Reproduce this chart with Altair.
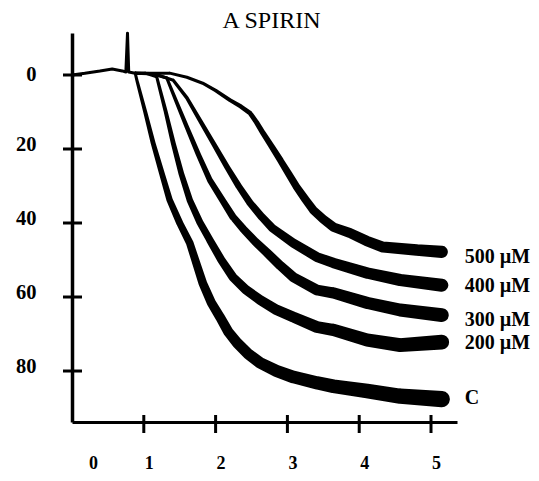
import altair as alt
import pandas as pd

title_text = "A SPIRIN"

# shared pre-addition baseline (incl. the addition artefact spike)
base_t = [0.00, 0.18, 0.39, 0.56, 0.70, 0.75, 0.773, 0.79, 0.88]
base_v = [0.0, -0.5, -1.1, -1.6, -1.1, -0.8, -11.3, -0.8, -0.5]

c_t = [0.88, 0.91, 1.02, 1.13, 1.25, 1.36, 1.50, 1.64, 1.82, 1.94, 2.06, 2.18, 2.30, 2.46, 2.62, 2.85, 3.08, 3.41, 3.64, 4.11, 4.57, 5.15]
c_v = [-0.5, 1.9, 10.0, 18.4, 26.5, 33.8, 40.0, 45.4, 56.2, 61.5, 65.4, 69.5, 72.4, 75.5, 77.8, 80.0, 81.6, 83.2, 84.1, 85.4, 86.8, 87.6]

a200_t = [0.88, 1.02, 1.18, 1.30, 1.41, 1.52, 1.64, 1.78, 1.92, 2.08, 2.24, 2.42, 2.62, 2.85, 3.08, 3.41, 3.64, 4.11, 4.57, 5.15]
a200_v = [-0.5, -0.5, 0.5, 9.5, 18.4, 26.5, 33.8, 39.8, 44.6, 50.0, 54.6, 58.0, 60.8, 63.5, 65.4, 68.1, 68.9, 71.6, 73.0, 72.2]

a300_t = [0.88, 1.10, 1.32, 1.46, 1.60, 1.76, 1.92, 2.10, 2.24, 2.38, 2.55, 2.72, 2.90, 3.08, 3.41, 3.64, 4.11, 4.57, 5.15]
a300_v = [-0.5, -0.4, 0.8, 7.5, 14.1, 21.5, 28.4, 34.0, 38.3, 41.5, 45.0, 48.1, 51.5, 54.6, 58.1, 58.9, 61.6, 63.5, 64.9]

a400_t = [0.88, 1.15, 1.41, 1.60, 1.78, 1.97, 2.16, 2.32, 2.48, 2.64, 2.79, 3.08, 3.41, 3.64, 4.11, 4.57, 5.15]
a400_v = [-0.5, -0.3, 1.4, 6.2, 12.2, 18.5, 24.9, 30.0, 34.6, 38.3, 41.4, 45.4, 49.2, 50.8, 53.5, 55.4, 56.8]

a500_t = [0.88, 1.36, 1.60, 1.82, 2.00, 2.20, 2.35, 2.48, 2.57, 2.66, 2.78, 2.90, 3.02, 3.13, 3.25, 3.36, 3.50, 3.64, 3.87, 4.10, 4.33, 4.80, 5.15]
a500_v = [-0.5, -0.5, 0.6, 2.2, 4.2, 6.8, 8.5, 10.3, 12.8, 15.7, 19.3, 23.0, 26.8, 30.3, 33.6, 36.5, 39.0, 41.1, 42.7, 44.8, 46.5, 47.3, 47.8]

label_names = ["500 µM", "400 µM", "300 µM", "200 µM", "C"]
label_t = [5.15, 5.15, 5.15, 5.15, 5.15]
label_v = [49.2, 57.0, 66.2, 72.4, 87.3]

x_ticks = [1, 2, 3, 4, 5]
x_labels = [0, 1, 2, 3, 4, 5]
y_ticks = [0, 20, 40, 60, 80]

series = [
    ("base", base_t, base_v),
    ("C", c_t, c_v),
    ("200", a200_t, a200_v),
    ("300", a300_t, a300_v),
    ("400", a400_t, a400_v),
    ("500", a500_t, a500_v),
]
rows = []
for name, ts, vs in series:
    for t, v in zip(ts, vs):
        rows.append({"series": name, "t": t, "v": v})
df = pd.DataFrame(rows)

FONT = "Liberation Serif"
x_scale = alt.Scale(domain=[0, 5.362], nice=False, zero=False)
y_scale = alt.Scale(domain=[-11.35, 93.78], nice=False, zero=False, reverse=True)

x_axis = alt.Axis(
    values=x_labels, ticks=False, tickSize=0, grid=False, title=None,
    domainColor="black", domainWidth=3,
    labelFont=FONT, labelFontWeight="bold", labelFontSize=18, labelColor="black",
    labelPadding=32, labelFlush=False, labelOverlap=False, format="d",
    labelOffset={"condition": {"test": "datum.value == 0", "value": 21}, "value": 5},
)
y_axis = alt.Axis(
    values=y_ticks, ticks=False, tickSize=0, grid=False, title=None,
    domainColor="black", domainWidth=3.5,
    labelFont=FONT, labelFontWeight="bold", labelFontSize=20.5, labelColor="black",
    labelPadding=36, labelFlush=False, labelOverlap=False, format="d",
    labelOffset={"condition": {"test": "datum.value == 0", "value": 0}, "value": -5},
)

# trace thickness grows as the recording gets noisier (style only)
traces = alt.Chart(df).transform_calculate(
    w="3 + 0.1 * max(datum.v, 0) + 1.4 * max(0, datum.t - 2)"
).mark_trail(color="black").encode(
    x=alt.X("t:Q", scale=x_scale, axis=x_axis),
    y=alt.Y("v:Q", scale=y_scale, axis=y_axis),
    detail="series:N",
    order="t:Q",
    size=alt.Size("w:Q", scale=alt.Scale(domain=[0, 20], range=[0, 20], zero=True), legend=None),
)

ytick = alt.Chart(pd.DataFrame({"v": y_ticks})).mark_rule(color="black", strokeWidth=3).encode(
    y=alt.Y("v:Q", scale=y_scale, axis=y_axis),
    x=alt.value(-9), x2=alt.value(10),
)
xtick = alt.Chart(pd.DataFrame({"t": x_ticks})).mark_rule(color="black", strokeWidth=3).encode(
    x=alt.X("t:Q", scale=x_scale, axis=x_axis),
    y=alt.value(382), y2=alt.value(400),
)

labels = alt.Chart(pd.DataFrame({"label": label_names, "t": label_t, "v": label_v})).mark_text(
    align="left", baseline="middle", dx=23, font=FONT, fontWeight="bold", fontSize=20, color="black"
).encode(
    x=alt.X("t:Q", scale=x_scale, axis=x_axis),
    y=alt.Y("v:Q", scale=y_scale, axis=y_axis),
    text="label:N",
)

chart = alt.layer(traces, ytick, xtick, labels).properties(
    width=385, height=389,
    autosize=alt.AutoSizeParams(type="none"),
    padding={"left": 64, "top": 25, "right": 74, "bottom": 51},
    title=alt.TitleParams(title_text, font=FONT, fontSize=24, fontWeight="normal", anchor="middle",
                          dx=7, offset=-1, color="black"),
    background="white",
).configure_view(stroke=None)

chart.save("out.html", embed_options={"renderer": "svg", "actions": False})
